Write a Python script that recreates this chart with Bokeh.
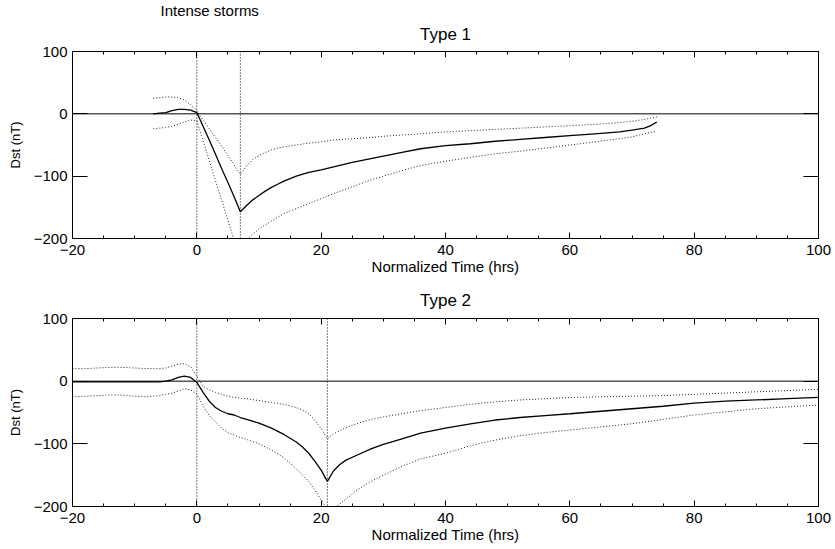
from bokeh.plotting import figure
from bokeh.layouts import column
from bokeh.models import Span, Title, LinearAxis, FixedTicker
from bokeh.embed import file_html
from bokeh.resources import INLINE

# ---------------- data ----------------
x_ticks = [-20, 0, 20, 40, 60, 80, 100]
y_ticks = [-200, -100, 0, 100]

# Type 1
t1 = [-7, -6, -5, -4, -3, -2, -1, 0, 1, 2, 3, 4, 5, 6, 7, 8, 9, 10, 11, 12, 13, 14,
      16, 18, 20, 22, 25, 28, 30, 33, 36, 40, 44, 48, 52, 56, 60, 64, 68, 70, 72, 73, 74]
mean1 = [0, 1, 2, 5, 7, 7, 6, 2, -20, -42, -65, -88, -110, -133, -157, -147, -138, -131, -124, -118, -113, -108,
         -100, -94, -90, -85, -78, -72, -68, -62, -56, -51, -48, -44, -41, -38, -35, -32, -29, -26, -23, -19, -13]
upper1 = [25, 26, 27, 27, 26, 22, 15, 5, -10, -24, -38, -52, -67, -82, -97, -84, -73, -67, -62, -58, -55, -53,
          -50, -47, -45, -42, -40, -38, -36, -34, -32, -29, -27, -25, -23, -21, -19, -17, -14, -12, -9, -7, -5]
lower1 = [-24, -23, -22, -20, -17, -13, -10, -11, -43, -75, -107, -139, -171, -203, -222, -202, -193, -185, -178, -172, -166, -160,
          -152, -144, -136, -128, -117, -106, -100, -91, -83, -76, -70, -64, -60, -55, -50, -45, -40, -37, -32, -30, -28]
markers1 = [0, 7]

# Type 2
t2 = [-20, -18, -16, -14, -12, -10, -8, -6, -5, -4, -3, -2, -1, 0, 1, 2, 3, 4, 5, 6, 7, 8, 10, 12, 14,
      16, 17, 18, 19, 20, 21, 22, 23, 24, 26, 28, 30, 33, 36, 40, 44, 48, 52, 56, 60, 65, 70, 75, 80, 85, 90, 95, 100]
mean2 = [-1, -1, -1, -1, -1, -1, -1, -1, 0, 2, 6, 8, 6, -2, -18, -32, -42, -48, -52, -54, -58, -61, -67, -75, -85,
         -97, -105, -115, -128, -142, -160, -143, -133, -126, -117, -108, -101, -92, -83, -75, -68, -62, -58, -55, -52,
         -48, -44, -40, -35, -32, -30, -28, -26]
upper2 = [20, 20, 21, 22, 22, 21, 20, 20, 21, 24, 27, 28, 23, 8, -8, -14, -18, -21, -24, -26, -27, -28, -31, -34, -37,
          -42, -46, -52, -62, -76, -92, -84, -79, -74, -67, -61, -57, -52, -47, -42, -37, -33, -30, -28, -26,
          -25, -24, -23, -21, -19, -17, -15, -13]
lower2 = [-25, -24, -23, -22, -22, -24, -25, -23, -21, -19, -16, -12, -14, -20, -40, -55, -65, -75, -82, -86, -90, -93, -100, -110, -122,
          -140, -150, -160, -174, -190, -205, -203, -196, -188, -172, -160, -150, -136, -124, -115, -103, -94, -87, -82, -78,
          -73, -68, -61, -54, -49, -44, -41, -38]
markers2 = [0, 21]

FONT = "Liberation Sans"


def make_panel(title, t, mean, upper, lower, markers, height, top, bottom, title_standoff,
               extra_title=None, extra_standoff=0):
    p = figure(width=835, height=height, x_range=(-20, 100), y_range=(-200, 100),
               output_backend="svg", toolbar_location=None,
               min_border_left=72, min_border_right=17,
               min_border_top=top, min_border_bottom=bottom)
    p.background_fill_color = "white"
    p.border_fill_color = "white"
    p.outline_line_color = "black"
    p.outline_line_width = 1
    p.xgrid.visible = False
    p.ygrid.visible = False

    xt = FixedTicker(ticks=x_ticks, minor_ticks=list(range(-20, 101, 5)))
    yt = FixedTicker(ticks=y_ticks, minor_ticks=[])

    xb = p.below[0]
    yl = p.left[0]

    # extra axes on the top and right (ticks only, no labels)
    ax_top = LinearAxis(ticker=xt, major_label_overrides={v: "" for v in x_ticks})
    ax_right = LinearAxis(ticker=yt, major_label_overrides={v: "" for v in y_ticks})
    for ax in (ax_top, ax_right):
        ax.major_label_standoff = 0
    p.add_layout(ax_top, "above")
    p.add_layout(ax_right, "right")

    xb.ticker = xt
    yl.ticker = yt
    xb.axis_label = "Normalized Time (hrs)"
    yl.axis_label = "Dst (nT)"

    for ax in (xb, ax_top):
        ax.major_tick_in = 6
        ax.major_tick_out = 0
        ax.minor_tick_in = 3
        ax.minor_tick_out = 0
    for ax in (yl, ax_right):
        ax.major_tick_in = 15
        ax.major_tick_out = 0
        ax.minor_tick_in = 0
        ax.minor_tick_out = 0
    for ax in (xb, yl, ax_top, ax_right):
        ax.axis_line_color = "black"
        ax.major_tick_line_color = "black"
        ax.minor_tick_line_color = "black"
        ax.major_label_text_font = FONT
        ax.major_label_text_color = "black"
        ax.major_label_text_font_size = "15px"
        ax.axis_label_text_font = FONT
        ax.axis_label_text_font_style = "normal"
        ax.axis_label_text_color = "black"
        ax.axis_label_text_font_size = "15px"
    yl.axis_label_text_font_size = "13px"
    xb.major_label_standoff = 6
    xb.axis_label_standoff = 0
    yl.major_label_standoff = 5
    yl.axis_label_standoff = 8

    p.add_layout(Title(text=title, align="center", text_font=FONT, text_font_size="17px",
                       text_font_style="normal", text_color="black", standoff=title_standoff), "above")
    if extra_title:
        p.add_layout(Title(text=extra_title, align="left", offset=88, text_font=FONT, text_font_size="15px",
                           text_font_style="normal", text_color="black", standoff=extra_standoff), "above")

    # zero reference and event markers
    p.add_layout(Span(location=0, dimension="width", line_color="black", line_width=1))
    for m in markers:
        p.add_layout(Span(location=m, dimension="height", line_color="black", line_width=1, line_dash="1 2"))

    p.line(t, upper, line_color="#222222", line_width=1, line_dash="1 2")
    p.line(t, lower, line_color="#222222", line_width=1, line_dash="1 2")
    p.line(t, mean, line_color="black", line_width=1.3)
    return p


p1 = make_panel("Type 1", t1, mean1, upper1, lower1, markers1, 280, 51, 42, 16,
                extra_title="Intense storms", extra_standoff=-8)
p2 = make_panel("Type 2", t2, mean2, upper2, lower2, markers2, 269, 38, 43, 17)

layout = column(p1, p2, spacing=0)
open("out.html", "w").write(file_html(layout, INLINE))
